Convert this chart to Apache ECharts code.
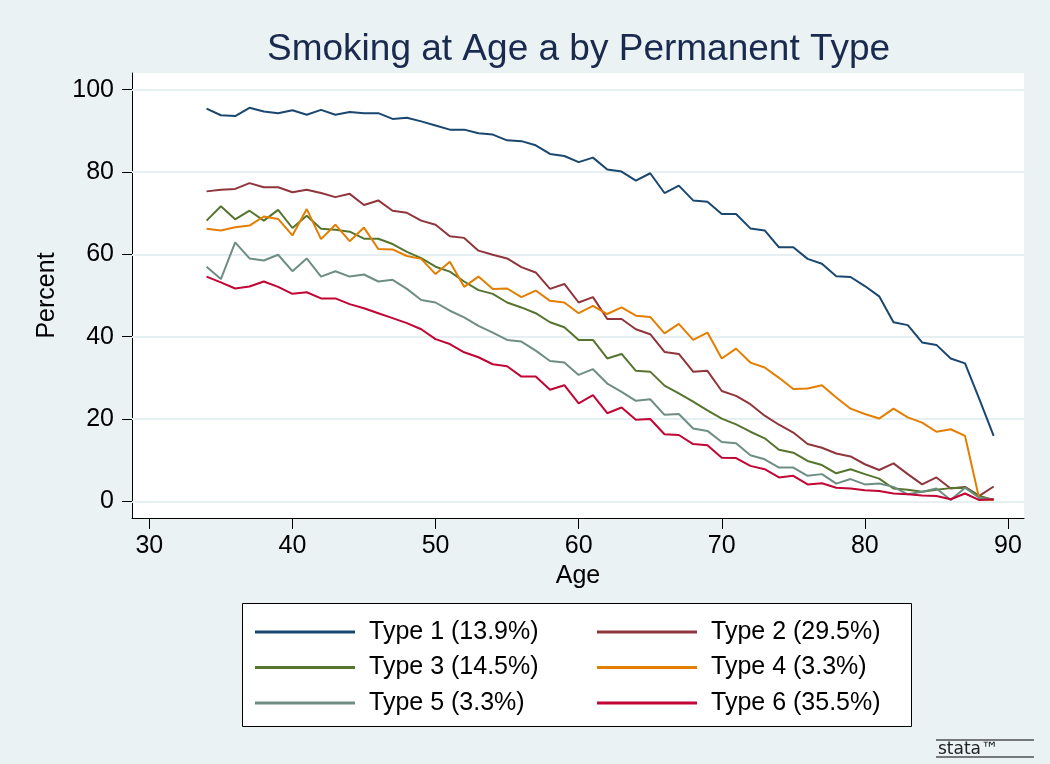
<!DOCTYPE html>
<html>
<head>
<meta charset="utf-8">
<script src="https://cdn.jsdelivr.net/npm/echarts@6/dist/echarts.min.js"></script>
<style>
html,body{margin:0;padding:0;background:#eaf2f3;}
#chart{width:1050px;height:764px;}
</style>
</head>
<body>
<div id="chart"></div>
<script>
const ages = [34,35,36,37,38,39,40,41,42,43,44,45,46,47,48,49,50,51,52,53,54,55,56,57,58,59,60,61,62,63,64,65,66,67,68,69,70,71,72,73,74,75,76,77,78,79,80,81,82,83,84,85,86,87,88,89];

const type1 = [95.4,93.8,93.6,95.6,94.7,94.3,95.0,93.9,95.1,93.9,94.6,94.3,94.3,92.9,93.2,92.3,91.3,90.3,90.3,89.4,89.1,87.7,87.5,86.5,84.4,83.9,82.4,83.5,80.6,80.1,77.9,79.7,74.9,76.7,73.1,72.8,69.8,69.8,66.3,65.8,61.7,61.7,58.9,57.7,54.7,54.5,52.3,49.8,43.5,42.8,38.6,38.0,34.7,33.5,24.8,15.9];
const type2 = [75.3,75.7,75.9,77.3,76.3,76.3,75.1,75.7,74.9,73.9,74.7,72.0,73.1,70.6,70.1,68.2,67.2,64.4,64.0,60.9,59.9,59.0,56.9,55.6,51.6,52.8,48.3,49.6,44.3,44.3,41.8,40.6,36.3,35.8,31.5,31.7,26.8,25.6,23.6,20.8,18.6,16.7,13.9,13.0,11.6,10.9,9.0,7.6,9.2,6.6,4.1,5.8,3.1,3.5,1.3,3.6];
const type3 = [68.2,71.7,68.5,70.6,68.2,70.8,66.4,69.4,66.2,66.0,65.5,63.8,63.8,62.5,60.6,59.1,57.0,55.8,53.4,51.3,50.4,48.3,47.1,45.7,43.5,42.3,39.2,39.2,34.7,35.8,31.7,31.5,28.1,26.2,24.2,22.1,20.1,18.7,16.9,15.3,12.5,11.8,9.8,8.8,6.8,7.8,6.6,5.5,3.1,2.8,2.3,2.8,3.2,3.3,1.3,0.3];
const type4 = [66.2,65.8,66.6,67.0,69.2,68.6,64.6,71.0,63.7,67.2,63.2,66.5,61.3,61.2,59.6,58.9,55.2,58.2,52.1,54.6,51.6,51.7,49.6,51.2,48.7,48.3,45.7,47.5,45.5,47.1,45.1,44.8,40.8,43.1,39.2,41.0,34.7,37.1,33.7,32.5,30.0,27.3,27.4,28.2,25.2,22.5,21.2,20.1,22.5,20.4,19.1,16.9,17.5,15.9,0.5,0.3];
const type5 = [57.0,54.0,62.9,59.0,58.5,59.9,55.9,59.0,54.6,55.9,54.6,55.1,53.4,53.8,51.6,48.9,48.3,46.3,44.7,42.6,41.0,39.2,38.8,36.6,34.1,33.7,30.7,32.1,28.6,26.6,24.4,24.8,21.0,21.2,17.7,17.1,14.4,14.1,11.2,10.2,8.2,8.2,6.2,6.6,4.3,5.4,4.1,4.3,3.5,1.7,2.3,3.1,0.3,3.3,0.8,0.5];
const type6 = [54.6,53.2,51.7,52.2,53.4,52.1,50.4,50.8,49.3,49.3,47.9,46.9,45.7,44.5,43.3,41.8,39.4,38.2,36.2,35.0,33.3,32.8,30.3,30.3,27.1,28.2,23.8,25.8,21.4,22.8,19.8,20.0,16.3,16.1,13.9,13.6,10.6,10.5,8.6,7.8,5.8,6.2,4.1,4.4,3.3,3.1,2.7,2.5,1.9,1.7,1.4,1.3,0.5,1.9,0.3,0.5];

const seriesNames = ['Type 1 (13.9%)','Type 2 (29.5%)','Type 3 (14.5%)','Type 4 (3.3%)','Type 5 (3.3%)','Type 6 (35.5%)'];
const seriesValues = [type1,type2,type3,type4,type5,type6];
const seriesColors = ['#1a476f','#90353b','#55752f','#e37e00','#6e8e84','#c10534'];

const xTicks = [30,40,50,60,70,80,90];
const yTicks = [0,20,40,60,80,100];

const chart = echarts.init(document.getElementById('chart'));

const series = [{
  type: 'line', data: [], silent: true, z: 1,
  markLine: {
    silent: true, symbol: 'none', label: {show: false}, z: 1,
    lineStyle: {color: '#e6eff1', width: 2, type: 'solid'},
    emphasis: {disabled: true},
    data: yTicks.map(v => ({yAxis: v}))
  }
}];
seriesNames.forEach((name, i) => {
  series.push({
    name: name, type: 'line', symbol: 'none', showSymbol: false, z: 3,
    data: ages.map((a, j) => [a, seriesValues[i][j]]),
    lineStyle: {color: seriesColors[i], width: 2},
    itemStyle: {color: seriesColors[i]},
    emphasis: {disabled: true}
  });
});

const legendCommon = {
  orient: 'vertical', itemWidth: 100, itemHeight: 3, itemGap: 5.5,
  padding: 0, icon: 'rect',
  textStyle: {fontFamily: 'Liberation Sans, Arial, sans-serif', fontSize: 25, color: '#000', lineHeight: 30, padding: [0,0,0,9]}
};

chart.setOption({
  backgroundColor: '#eaf2f3',
  animation: false,
  title: {
    text: 'Smoking at Age a by Permanent Type',
    left: 262, top: 26,
    textStyle: {fontFamily: 'Liberation Sans, Arial, sans-serif', fontSize: 37, fontWeight: 'normal', color: '#1a2a4f'}
  },
  grid: {left: 132, top: 73, right: 26, bottom: 246, show: true, backgroundColor: '#ffffff', borderWidth: 0},
  xAxis: {
    type: 'value', min: 28.79, max: 91.12,
    name: 'Age', nameLocation: 'middle', nameGap: 42,
    nameTextStyle: {fontFamily: 'Liberation Sans, Arial, sans-serif', fontSize: 25, color: '#000'},
    axisLine: {show: true, onZero: false, lineStyle: {color: '#000', width: 1}},
    axisTick: {show: true, length: 11, lineStyle: {color: '#000'}, customValues: xTicks},
    axisLabel: {customValues: xTicks, margin: 16, fontFamily: 'Liberation Sans, Arial, sans-serif', fontSize: 25, color: '#000'},
    splitLine: {show: false}
  },
  yAxis: {
    type: 'value', min: -4.06, max: 104.06,
    name: 'Percent', nameLocation: 'middle', nameGap: 72, nameRotate: 90,
    nameTextStyle: {fontFamily: 'Liberation Sans, Arial, sans-serif', fontSize: 25, color: '#000'},
    axisLine: {show: true, onZero: false, lineStyle: {color: '#000', width: 1}},
    axisTick: {show: true, length: 10, lineStyle: {color: '#000'}, customValues: yTicks},
    axisLabel: {customValues: yTicks, margin: 18, fontFamily: 'Liberation Sans, Arial, sans-serif', fontSize: 25, color: '#000'},
    splitLine: {show: false}
  },
  legend: [
    Object.assign({}, legendCommon, {data: [seriesNames[0], seriesNames[2], seriesNames[4]], left: 255, top: 617}),
    Object.assign({}, legendCommon, {data: [seriesNames[1], seriesNames[3], seriesNames[5]], left: 597, top: 617})
  ],
  graphic: [
    {type: 'rect', z: -1, shape: {x: 242.5, y: 603.5, width: 669, height: 123}, style: {fill: '#ffffff', stroke: '#000', lineWidth: 1}},
    {type: 'line', shape: {x1: 936, y1: 740, x2: 1034, y2: 740}, style: {stroke: '#000', lineWidth: 1.2}},
    {type: 'text', x: 938, y: 741, style: {text: 'stata™', font: '17px "DejaVu Sans", sans-serif', fill: '#222'}},
    {type: 'line', shape: {x1: 936, y1: 757, x2: 1034, y2: 757}, style: {stroke: '#000', lineWidth: 1.2}}
  ],
  series: series
});
</script>
</body>
</html>
